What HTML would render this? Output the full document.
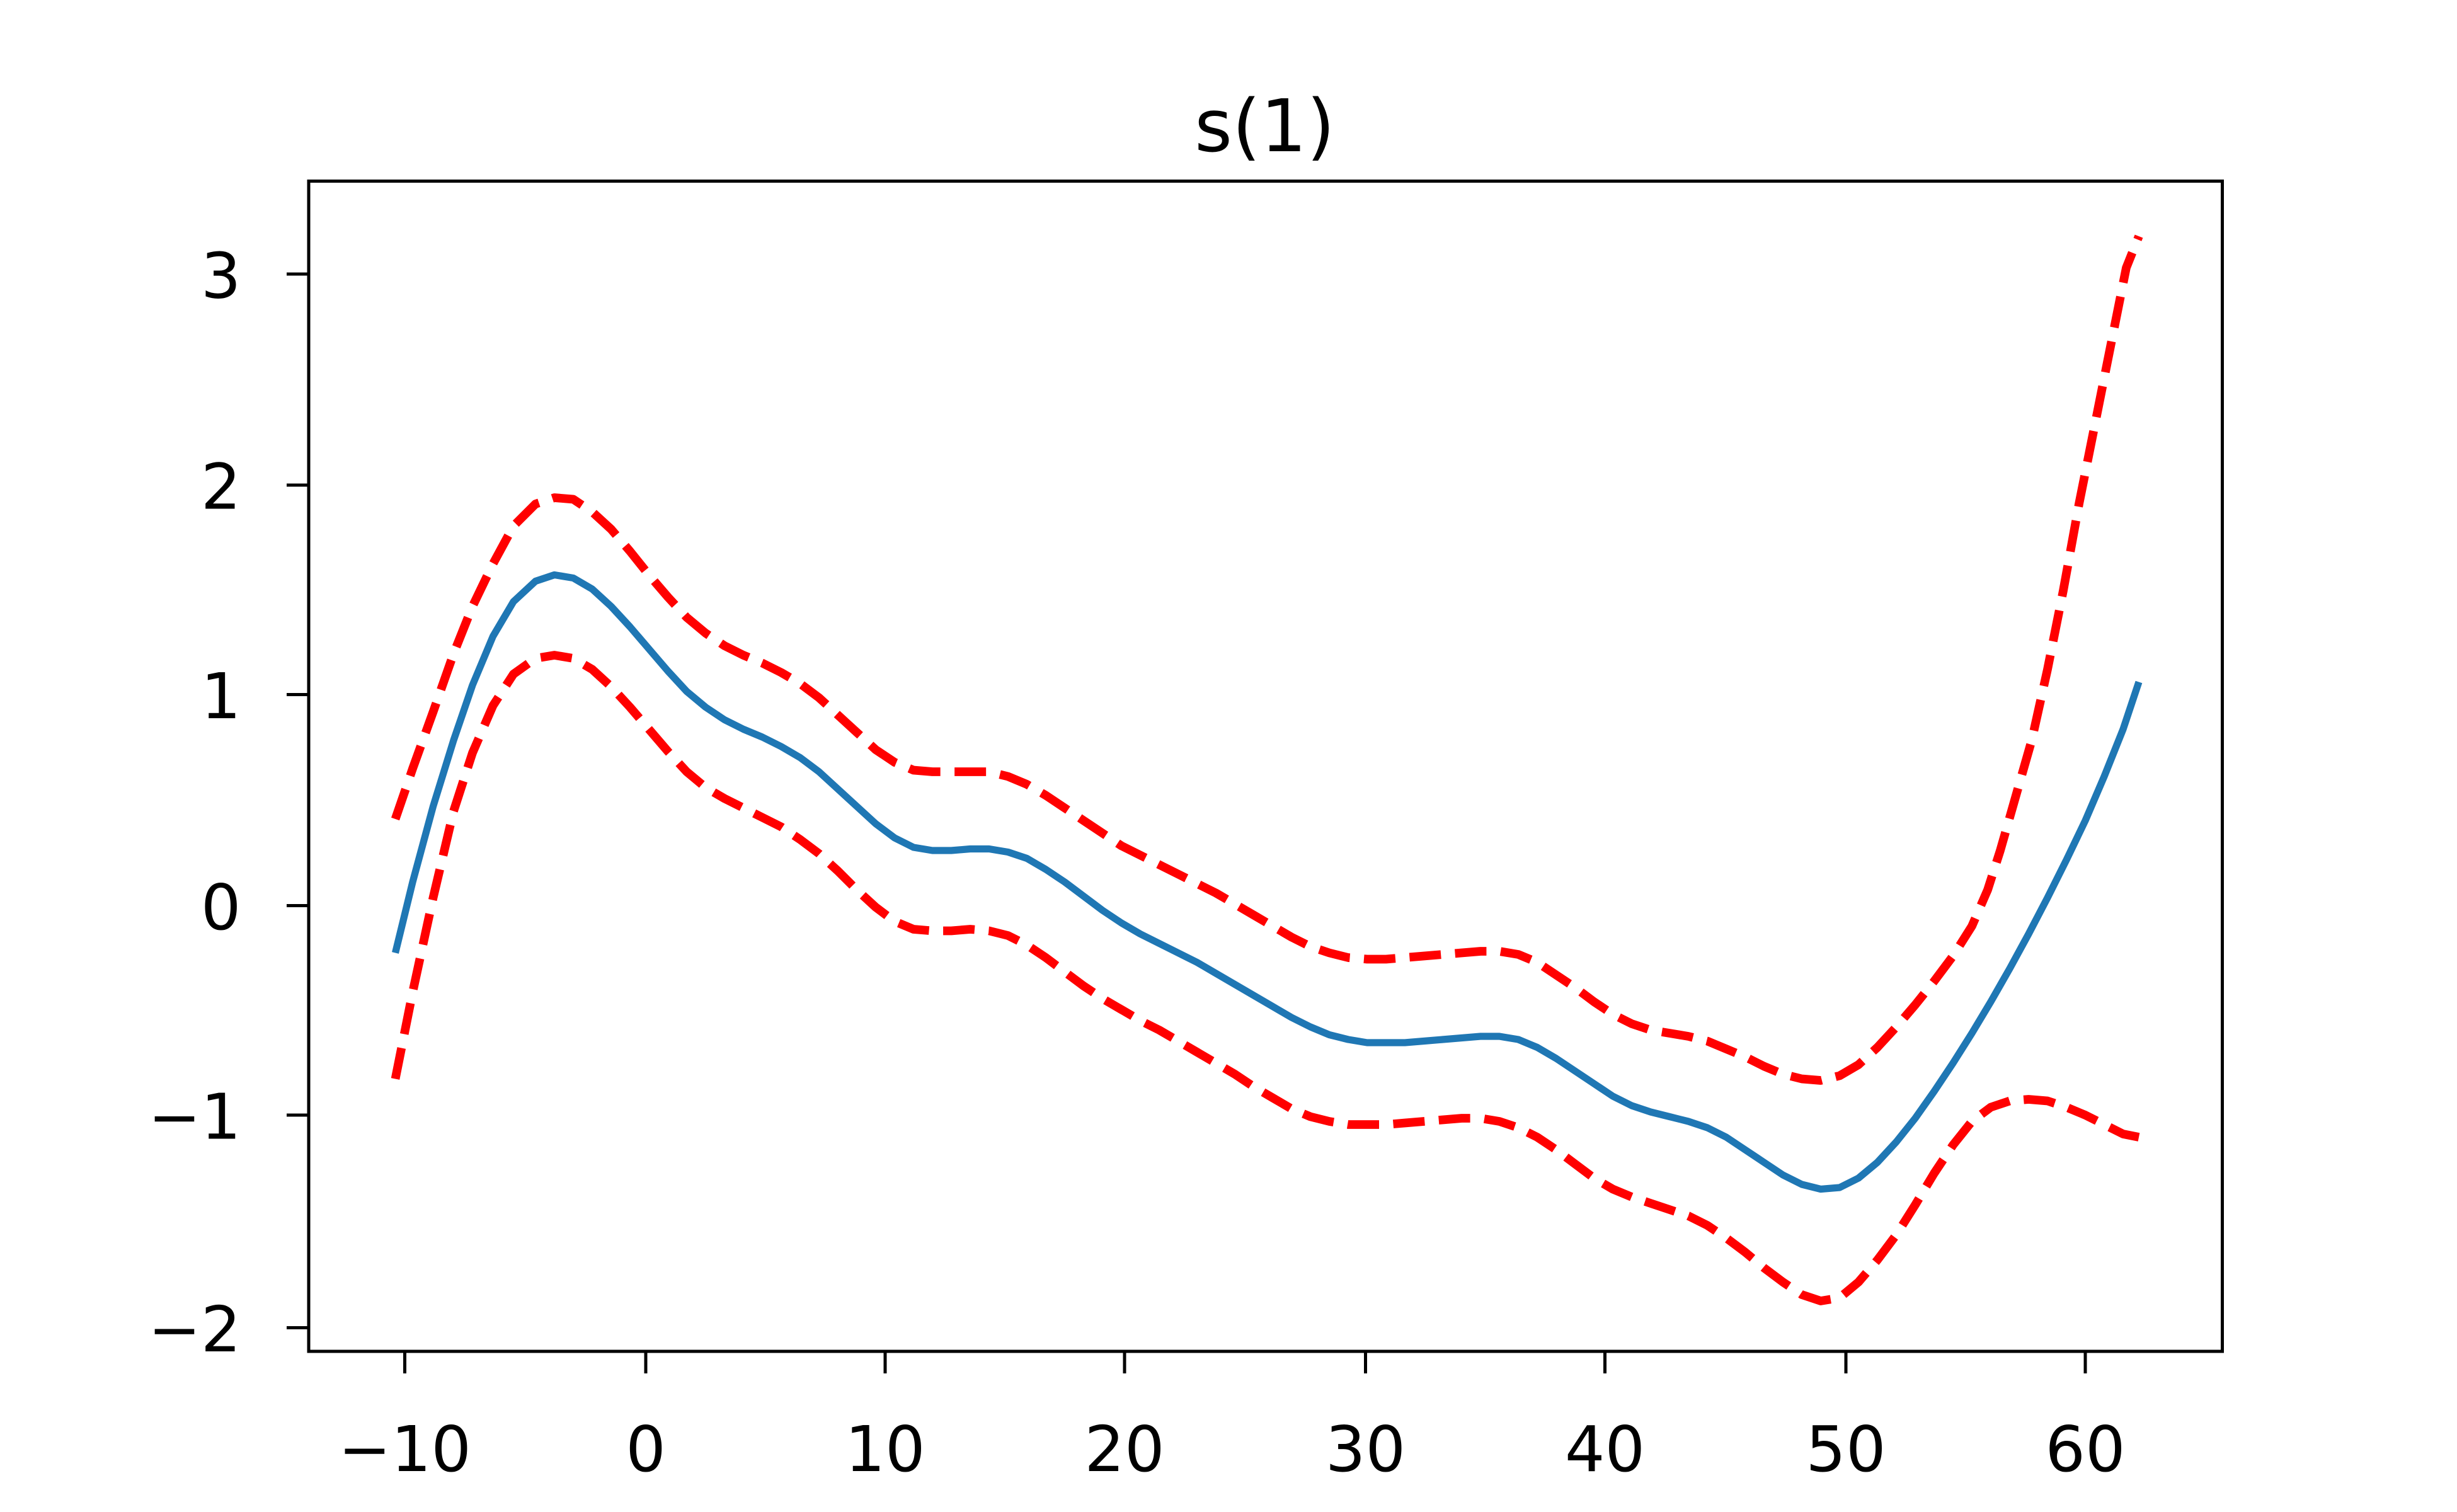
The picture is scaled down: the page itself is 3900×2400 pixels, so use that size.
<!DOCTYPE html>
<html><head><meta charset="utf-8"><style>html,body{margin:0;padding:0;background:#fff}svg{display:block}</style></head>
<body>
<svg width="3900" height="2400" viewBox="0 0 1560 960" xmlns="http://www.w3.org/2000/svg" font-family="DejaVu Sans, Liberation Sans, sans-serif">
<rect width="1560" height="960" fill="#fff"/>
<g fill="none" stroke-linejoin="round">
<polyline stroke="#1f77b4" stroke-width="4.5" points="251,605 262,560 275,512 288,470 300,435 313,404 326,382 340,369 352,365 364,367 376,374 388,385 400,398 412,412 424,426 436,439 448,449 460,457 472,463 484,468 496,474 508,481 520,490 532,501 544,512 556,523 568,532 580,538 592,540 604,540 616,539 628,539 640,541 652,545 664,552 676,560 688,569 700,578 712,586 724,593 736,599 748,605 760,611 772,618 784,625 796,632 808,639 820,646 832,652 844,657 856,660 868,662 880,662 892,662 904,661 916,660 928,659 940,658 952,658 964,660 976,665 988,672 1000,680 1012,688 1024,696 1036,702 1048,706 1060,709 1072,712 1084,716 1096,722 1108,730 1120,738 1132,746 1144,752 1156,755 1168,754 1180,748 1192,738 1204,725 1216,710 1228,693 1240,675 1252,656 1264,636 1276,615 1288,593 1300,570 1312,546 1324,521 1336,493 1348,463 1358,433"/>
<polyline stroke="#ff0000" stroke-width="5.5" stroke-dasharray="20,9" points="251,520 262,488 275,452 288,415 300,385 313,358 326,334 340,320 352,316 364,317 376,325 388,336 400,350 412,365 424,379 436,392 448,402 460,410 472,416 484,421 496,427 508,434 520,443 532,454 544,465 556,476 568,484 580,489 592,490 604,490 616,490 628,490 640,493 652,498 664,505 676,513 688,521 700,529 712,537 724,543 736,549 748,555 760,561 772,567 784,574 796,581 808,588 820,595 832,601 844,605 856,608 868,609 880,609 892,608 904,607 916,606 928,605 940,604 952,604 964,606 976,611 988,619 1000,627 1012,636 1024,644 1036,650 1048,654 1060,656 1072,658 1084,661 1096,666 1108,671 1120,677 1132,682 1144,685 1156,686 1168,683 1180,676 1192,665 1204,652 1216,638 1228,623 1240,607 1252,588 1262,565 1270,540 1280,505 1290,470 1300,425 1310,375 1320,320 1330,270 1340,220 1350,170 1358,150"/>
<polyline stroke="#ff0000" stroke-width="5.5" stroke-dasharray="20,9" points="251,685 262,630 275,570 288,515 300,478 313,448 326,428 340,418 352,416 364,418 376,425 388,436 400,449 412,463 424,477 436,490 448,500 460,507 472,513 484,519 496,525 508,533 520,542 532,553 544,565 556,576 568,585 580,590 592,591 604,591 616,590 628,591 640,594 652,600 664,608 676,617 688,626 700,634 712,641 724,648 736,654 748,661 760,668 772,675 784,682 796,690 808,697 820,704 832,709 844,712 856,714 868,714 880,714 892,713 904,712 916,711 928,710 940,710 952,712 964,716 976,722 988,730 1000,739 1012,748 1024,755 1036,760 1048,764 1060,768 1072,772 1084,778 1096,786 1108,795 1120,805 1132,814 1144,822 1156,826 1168,824 1180,814 1192,800 1204,784 1216,765 1228,745 1240,727 1252,712 1264,703 1276,699 1288,698 1300,699 1312,703 1324,708 1336,714 1348,720 1358,722"/>
</g>
<rect x="196" y="115" width="1215" height="743" fill="none" stroke="#000" stroke-width="2"/>
<g stroke="#000" stroke-width="2">
<line x1="257" y1="858" x2="257" y2="872"/><line x1="410" y1="858" x2="410" y2="872"/><line x1="562" y1="858" x2="562" y2="872"/><line x1="714" y1="858" x2="714" y2="872"/><line x1="867" y1="858" x2="867" y2="872"/><line x1="1019" y1="858" x2="1019" y2="872"/><line x1="1172" y1="858" x2="1172" y2="872"/><line x1="1324" y1="858" x2="1324" y2="872"/>
<line x1="182" y1="174" x2="196" y2="174"/><line x1="182" y1="308" x2="196" y2="308"/><line x1="182" y1="441" x2="196" y2="441"/><line x1="182" y1="575" x2="196" y2="575"/><line x1="182" y1="708" x2="196" y2="708"/><line x1="182" y1="843" x2="196" y2="843"/>
</g>
<g font-size="40" fill="#000" text-anchor="middle">
<text x="257" y="934">−10</text><text x="410" y="934">0</text><text x="562" y="934">10</text><text x="714" y="934">20</text><text x="867" y="934">30</text><text x="1019" y="934">40</text><text x="1172" y="934">50</text><text x="1324" y="934">60</text>
</g>
<g font-size="40" fill="#000" text-anchor="end">
<text x="153" y="189">3</text><text x="153" y="323">2</text><text x="153" y="456">1</text><text x="153" y="590">0</text><text x="153" y="723">−1</text><text x="153" y="858">−2</text>
</g>
<text x="803" y="96" font-size="46" text-anchor="middle" fill="#000">s(1)</text>
</svg>
</body></html>
